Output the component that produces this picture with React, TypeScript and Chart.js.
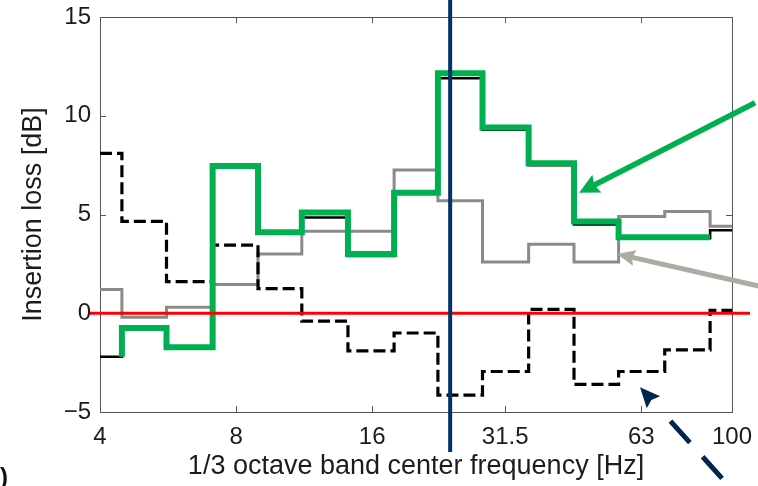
import React, { useEffect, useRef } from 'react';
import { Chart, registerables } from 'chart.js';

Chart.register(...registerables);

// 1/3 octave band centre frequencies [Hz]
const bandCenters = [4, 5, 6.3, 8, 10, 12.5, 16, 20, 25, 31.5, 40, 50, 63, 80, 100];
const xTickValues = [4, 8, 16, 31.5, 63, 100];
const xTickLabels = ['4', '8', '16', '31.5', '63', '100'];
const yTickValues = [-5, 0, 5, 10, 15];
const yTickLabels = ['\u22125', '0', '5', '10', '15'];

// Insertion loss [dB] per band
const dashedBlackValues = [8.1, 4.65, 1.6, 3.45, 1.25, -0.4, -1.9, -1.0, -4.15, -2.95, 0.2, -3.6, -2.95, -1.85, 0.15];
const solidBlackValues = [-2.2, -0.8, -1.75, 7.5, 4.1, 4.85, 2.9, 6.1, 11.9, 9.3, 7.5, 4.5, 3.8, 3.8, 4.2];
const grayValues = [1.2, -0.2, 0.3, 1.45, 3.0, 4.15, 4.15, 7.25, 5.7, 2.6, 3.5, 2.6, 4.9, 5.15, 4.4];
const greenValues = [null, -0.75, -1.72, 7.45, 4.1, 5.1, 3.0, 6.1, 12.15, 9.4, 7.6, 4.65, 3.85, 3.85, null];
const greenLeadInValue = -2.2;

const referenceLevel = 0;
const markerFrequency = 23.8;

const FONT = "'Liberation Sans', Arial, Helvetica, sans-serif";
const TEXT = '#1c1c1c';

type Pt = { x: number; y: number };

function bandEdges(i: number): [number, number] {
  const n = bandCenters.length;
  const lo = i === 0 ? bandCenters[0] : Math.sqrt(bandCenters[i - 1] * bandCenters[i]);
  const hi = i === n - 1 ? bandCenters[n - 1] : Math.sqrt(bandCenters[i] * bandCenters[i + 1]);
  return [lo, hi];
}

function stepPoints(values: (number | null)[], leadIn?: number): Pt[] {
  const pts: Pt[] = [];
  values.forEach((v, i) => {
    if (v === null) return;
    const [lo, hi] = bandEdges(i);
    if (pts.length === 0 && leadIn !== undefined) pts.push({ x: lo, y: leadIn });
    pts.push({ x: lo, y: v }, { x: hi, y: v });
  });
  return pts;
}

const arrowAnnotations = [
  { tipX: 45.9, tipY: 6.1, dx: 176, dy: -90, color: '#00b050', width: 5.5, head: 20, half: 10, dash: [] as number[], lineLen: 0 },
  { tipX: 55.7, tipY: 3.0, dx: 150, dy: 34, color: '#a9ada3', width: 5, head: 18, half: 8, dash: [] as number[], lineLen: 0 },
  { tipX: 62.6, tipY: -3.75, dx: 82, dy: 91, color: '#00264d', width: 5, head: 20, half: 9, dash: [29, 19], lineLen: 77 },
];

const framePlugin = {
  id: 'frame',
  beforeDatasetsDraw(chart: any) {
    const { ctx, chartArea: a, scales } = chart;
    ctx.save();
    ctx.strokeStyle = '#555';
    ctx.lineWidth = 1;
    ctx.strokeRect(a.left + 0.5, a.top + 0.5, a.right - a.left, a.bottom - a.top);
    const tl = 6;
    ctx.beginPath();
    xTickValues.forEach((v) => {
      const px = Math.round(scales.x.getPixelForValue(v)) + 0.5;
      ctx.moveTo(px, a.bottom);
      ctx.lineTo(px, a.bottom - tl);
      ctx.moveTo(px, a.top);
      ctx.lineTo(px, a.top + tl);
    });
    yTickValues.forEach((v) => {
      const py = Math.round(scales.y.getPixelForValue(v)) + 0.5;
      ctx.moveTo(a.left, py);
      ctx.lineTo(a.left + tl, py);
      ctx.moveTo(a.right, py);
      ctx.lineTo(a.right - tl, py);
    });
    ctx.stroke();
    ctx.restore();
  },
  afterDatasetsDraw(chart: any) {
    const { ctx, chartArea: a, scales } = chart;
    ctx.save();
    // red zero line
    const y0 = scales.y.getPixelForValue(referenceLevel);
    ctx.strokeStyle = '#ff0000';
    ctx.lineWidth = 3;
    ctx.beginPath();
    ctx.moveTo(a.left - 10, y0);
    ctx.lineTo(a.right + 18, y0);
    ctx.stroke();
    // navy marker line
    const xm = scales.x.getPixelForValue(markerFrequency);
    ctx.strokeStyle = '#003366';
    ctx.lineWidth = 4;
    ctx.beginPath();
    ctx.moveTo(xm, 0);
    ctx.lineTo(xm, a.bottom + 40);
    ctx.stroke();
    ctx.restore();
  },
  afterDraw(chart: any) {
    const { ctx, scales } = chart;
    ctx.save();
    arrowAnnotations.forEach((ar) => {
      const tx = scales.x.getPixelForValue(ar.tipX);
      const ty = scales.y.getPixelForValue(ar.tipY);
      const ex = tx + ar.dx;
      const ey = ty + ar.dy;
      const len = Math.hypot(ar.dx, ar.dy);
      const ux = ar.dx / len;
      const uy = ar.dy / len;
      const nx = -uy;
      const ny = ux;
      const stop = ar.lineLen > 0 ? len - ar.lineLen : ar.head * 0.8;
      ctx.strokeStyle = ar.color;
      ctx.lineWidth = ar.width;
      ctx.lineCap = 'butt';
      ctx.setLineDash(ar.dash);
      ctx.beginPath();
      ctx.moveTo(ex, ey);
      ctx.lineTo(tx + ux * stop, ty + uy * stop);
      ctx.stroke();
      ctx.setLineDash([]);
      const bx = tx + ux * ar.head;
      const by = ty + uy * ar.head;
      ctx.fillStyle = ar.color;
      ctx.beginPath();
      ctx.moveTo(tx, ty);
      ctx.lineTo(bx + nx * ar.half, by + ny * ar.half);
      ctx.lineTo(tx + ux * ar.head * 0.85, ty + uy * ar.head * 0.85);
      ctx.lineTo(bx - nx * ar.half, by - ny * ar.half);
      ctx.closePath();
      ctx.fill();
    });
    // panel label (cut off at the left edge)
    ctx.fillStyle = '#111';
    ctx.font = `bold 24px ${FONT}`;
    ctx.textAlign = 'right';
    ctx.textBaseline = 'alphabetic';
    ctx.fillText('(b)', 8, 485);
    ctx.restore();
  },
};

export default function App() {
  const canvasRef = useRef<HTMLCanvasElement | null>(null);

  useEffect(() => {
    document.body.style.margin = '0';
    const canvas = canvasRef.current;
    if (!canvas) return;

    const chart = new Chart(canvas, {
      type: 'line',
      data: {
        datasets: [
          {
            label: 'Green',
            data: stepPoints(greenValues, greenLeadInValue),
            borderColor: '#00b050',
            borderWidth: 6,
            borderJoinStyle: 'miter',
            borderCapStyle: 'butt',
            pointRadius: 0,
            tension: 0,
            order: 1,
          },
          {
            label: 'Black solid',
            data: stepPoints(solidBlackValues),
            borderColor: '#000000',
            borderWidth: 2.6,
            borderJoinStyle: 'miter',
            pointRadius: 0,
            tension: 0,
            order: 2,
          },
          {
            label: 'Black dashed',
            data: stepPoints(dashedBlackValues),
            borderColor: '#000000',
            borderWidth: 3.2,
            borderDash: [12, 5],
            borderJoinStyle: 'miter',
            pointRadius: 0,
            tension: 0,
            order: 3,
          },
          {
            label: 'Gray',
            data: stepPoints(grayValues),
            borderColor: '#8a8a8a',
            borderWidth: 3,
            borderJoinStyle: 'miter',
            pointRadius: 0,
            tension: 0,
            order: 4,
          },
        ] as any,
      },
      options: {
        animation: false,
        responsive: false,
        devicePixelRatio: 1,
        layout: { padding: { top: 17, right: 26, left: 0, bottom: 0 } },
        plugins: {
          legend: { display: false },
          tooltip: { enabled: false },
        },
        scales: {
          x: {
            type: 'logarithmic',
            min: 4,
            max: 100,
            afterBuildTicks: (s: any) => {
              s.ticks = xTickValues.map((v) => ({ value: v }));
            },
            afterFit: (s: any) => {
              s.height = 74;
              s.paddingLeft = 0;
              s.paddingRight = 0;
            },
            ticks: {
              autoSkip: false,
              maxRotation: 0,
              padding: 11,
              color: TEXT,
              font: { family: FONT, size: 24 },
              callback: (v: any) => {
                const i = xTickValues.indexOf(Number(v));
                return i >= 0 ? xTickLabels[i] : '';
              },
            },
            grid: { display: false, drawTicks: false },
            border: { display: false },
            title: {
              display: true,
              text: '1/3 octave band center frequency [Hz]',
              color: TEXT,
              font: { family: FONT, size: 27 },
              padding: { top: 0, bottom: 3 },
            },
          },
          y: {
            type: 'linear',
            min: -5,
            max: 15,
            afterBuildTicks: (s: any) => {
              s.ticks = yTickValues.map((v) => ({ value: v }));
            },
            afterFit: (s: any) => {
              s.width = 100;
              s.paddingTop = 0;
              s.paddingBottom = 0;
            },
            ticks: {
              padding: 9,
              color: TEXT,
              font: { family: FONT, size: 24 },
              callback: (v: any) => {
                const i = yTickValues.indexOf(Number(v));
                return i >= 0 ? yTickLabels[i] : '';
              },
            },
            grid: { display: false, drawTicks: false },
            border: { display: false },
            title: {
              display: true,
              text: 'Insertion loss [dB]',
              color: TEXT,
              font: { family: FONT, size: 27 },
              padding: { top: 17, bottom: 0 },
            },
          },
        },
      } as any,
      plugins: [framePlugin],
    });

    return () => {
      chart.destroy();
    };
  }, []);

  return (
    <div style={{ position: 'fixed', left: 0, top: 0, width: 758, height: 486, background: '#fff' }}>
      <canvas ref={canvasRef} width={758} height={486} style={{ display: 'block', width: 758, height: 486 }} />
    </div>
  );
}
